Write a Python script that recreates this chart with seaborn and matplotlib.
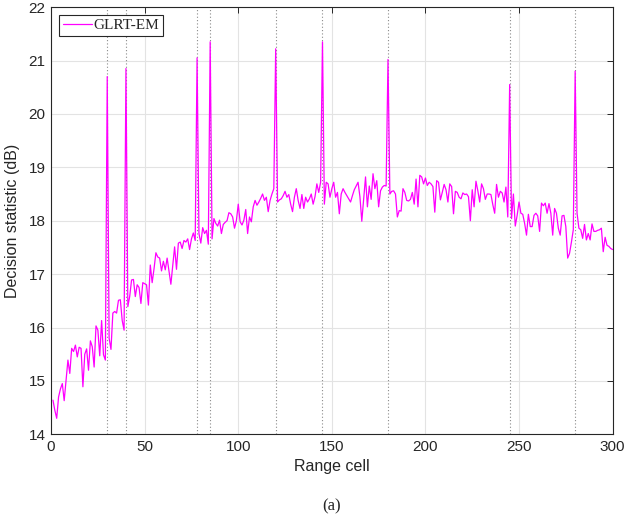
import matplotlib
matplotlib.use("Agg")
import matplotlib.pyplot as plt
import numpy as np
import pandas as pd
import seaborn as sns

# range cells and decision statistic (dB)
range_cells = np.arange(1, 301)
statistic_db = [
    14.64, 14.45, 14.30, 14.70, 14.85, 14.95, 14.63, 15.00, 15.39, 15.14,
    15.61, 15.55, 15.67, 15.45, 15.63, 15.61, 14.89, 15.50, 15.60, 15.20,
    15.75, 15.64, 15.26, 16.03, 15.95, 15.47, 16.13, 15.49, 15.39, 20.70,
    15.80, 15.59, 16.27, 16.30, 16.27, 16.51, 16.52, 16.13, 15.95, 20.85,
    16.39, 16.58, 16.89, 16.90, 16.58, 16.80, 16.75, 16.45, 16.84, 16.82,
    16.80, 16.42, 17.17, 16.84, 17.10, 17.40, 17.32, 17.30, 17.06, 17.24,
    17.08, 17.30, 17.05, 16.81, 17.17, 17.51, 17.09, 17.58, 17.60, 17.48,
    17.63, 17.60, 17.66, 17.46, 17.66, 17.77, 17.63, 21.05, 17.76, 17.58,
    17.87, 17.76, 17.82, 17.56, 21.35, 17.66, 18.04, 17.95, 17.90, 18.01,
    17.76, 17.93, 17.97, 18.00, 18.15, 18.13, 18.07, 17.86, 18.00, 18.31,
    17.98, 17.92, 18.01, 18.21, 17.76, 18.07, 17.98, 18.26, 18.38, 18.29,
    18.35, 18.42, 18.50, 18.38, 18.44, 18.17, 18.38, 18.50, 18.60, 21.22,
    18.35, 18.39, 18.41, 18.47, 18.55, 18.44, 18.49, 18.31, 18.17, 18.44,
    18.60, 18.38, 18.23, 18.49, 18.23, 18.44, 18.35, 18.41, 18.50, 18.31,
    18.45, 18.69, 18.53, 18.72, 21.35, 18.31, 18.72, 18.69, 18.44, 18.60,
    18.72, 18.44, 18.53, 18.13, 18.50, 18.60, 18.53, 18.47, 18.41, 18.35,
    18.47, 18.58, 18.65, 18.72, 18.45, 17.99, 18.41, 18.82, 18.26, 18.65,
    18.40, 18.88, 18.60, 18.75, 18.26, 18.56, 18.63, 18.66, 18.65, 21.02,
    18.50, 18.55, 18.56, 18.50, 18.07, 18.19, 18.18, 18.60, 18.53, 18.38,
    18.37, 18.40, 18.53, 18.31, 18.78, 18.26, 18.85, 18.82, 18.69, 18.80,
    18.66, 18.72, 18.69, 18.64, 18.16, 18.75, 18.72, 18.39, 18.53, 18.68,
    18.58, 18.35, 18.69, 18.64, 18.13, 18.55, 18.53, 18.44, 18.41, 18.52,
    18.49, 18.50, 18.45, 18.00, 18.58, 18.26, 18.74, 18.56, 18.35, 18.69,
    18.60, 18.40, 18.50, 18.50, 18.49, 18.30, 18.14, 18.68, 18.44, 18.55,
    18.52, 18.35, 18.63, 18.07, 20.55, 18.04, 18.50, 17.90, 18.10, 18.35,
    18.14, 18.12, 17.95, 17.73, 18.12, 17.89, 17.89, 18.10, 18.14, 18.09,
    17.80, 18.33, 18.28, 18.33, 18.14, 18.32, 18.14, 17.73, 18.23, 18.14,
    17.86, 17.73, 18.09, 18.10, 17.89, 17.30, 17.39, 17.60, 17.83, 20.80,
    18.14, 17.86, 17.83, 17.67, 17.93, 17.64, 17.76, 17.64, 17.94, 17.80,
    17.80, 17.82, 17.83, 17.86, 17.42, 17.69, 17.54, 17.52, 17.48, 17.46,
]
target_cells = [30, 40, 78, 85, 120, 145, 180, 245, 280]
x_ticks = [0, 50, 100, 150, 200, 250, 300]
y_ticks = [14, 15, 16, 17, 18, 19, 20, 21, 22]

df = pd.DataFrame({"cell": range_cells, "stat": statistic_db})

sns.set_style("whitegrid")
plt.rcParams["font.family"] = ["Liberation Sans", "DejaVu Sans"]

fig = plt.figure(figsize=(6.26, 5.2), dpi=100)
ax = fig.add_axes([0.0816, 0.1648, 0.897, 0.8215])

# dotted markers at the true target positions
for c in target_cells:
    ax.axvline(c, color="#8a8a8a", linestyle=(0, (1, 2)), linewidth=0.8, zorder=1)

sns.lineplot(data=df, x="cell", y="stat", color="#ff00ff", linewidth=0.9,
             label="GLRT-EM", ax=ax, zorder=3)

ax.set_xlim(0, 300)
ax.set_ylim(14, 22)
ax.set_xticks(x_ticks)
ax.set_yticks(y_ticks)
ax.grid(True, color="#e3e3e3", linewidth=0.8)
ax.tick_params(direction="in", length=4, width=0.7, top=True, right=True,
               labelsize=11, colors="#262626", pad=4)
for s in ax.spines.values():
    s.set_color("#262626")
    s.set_linewidth(0.8)

ax.set_xlabel("Range cell", fontsize=11.5, color="#262626", labelpad=4)
ax.set_ylabel("Decision statistic (dB)", fontsize=11.5, color="#262626", labelpad=6)

leg = ax.legend(loc="upper left", prop={"family": "Liberation Serif", "size": 11},
                frameon=True, fancybox=False, framealpha=1, edgecolor="#262626",
                handlelength=1.9, handletextpad=0.15, borderpad=0.25,
                borderaxespad=0.5)
leg.get_frame().set_linewidth(0.8)

fig.text(0.53, 0.027, "(a)", ha="center", va="center",
         family="Liberation Serif", fontsize=12)

fig.savefig("out.png", dpi=100)
